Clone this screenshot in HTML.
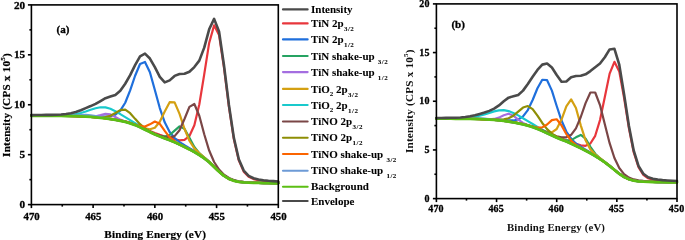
<!DOCTYPE html>
<html><head><meta charset="utf-8"><style>
html,body{margin:0;padding:0;background:#fff;}
svg{display:block;will-change:transform;}
text{font-family:"Liberation Serif",serif;font-weight:bold;fill:#000;stroke:#000;stroke-width:0.3px;}
text.lg{stroke-width:0.05px;}
text.tt{stroke-width:0.2px;}
text.tb{stroke-width:0px;fill:#111;}
</style></head><body>
<svg width="685" height="240" viewBox="0 0 685 240">
<rect width="685" height="240" fill="#fff"/>
<polyline points="31.40,115.61 36.34,115.62 41.28,115.64 46.21,115.66 51.15,115.68 56.09,115.70 61.03,115.73 65.97,115.77 70.90,115.83 75.84,115.93 80.78,116.08 85.72,116.30 90.66,116.59 95.59,116.96 100.53,117.42 105.47,117.99 110.41,118.66 115.35,119.38 120.28,120.22 125.22,121.26 130.16,122.60 135.10,124.27 140.04,126.32 144.97,128.62 149.91,130.93 154.85,133.04 159.79,134.88 164.73,136.44 169.66,137.89 174.60,139.31 179.54,140.33 184.48,139.93 189.42,136.00 194.35,125.24 199.29,104.50 204.23,74.40 209.17,42.94 214.11,25.35 219.04,34.92 223.98,67.58 228.92,106.75 233.86,139.30 238.80,160.43 243.73,171.66 248.67,176.83 253.61,179.10 258.55,180.20 263.49,180.86 268.42,181.32 273.36,181.68 278.30,181.97" fill="none" stroke="#e8363c" stroke-width="2.2" stroke-linejoin="round" stroke-linecap="round"/>
<polyline points="31.40,115.55 36.34,115.55 41.28,115.56 46.21,115.56 51.15,115.56 56.09,115.56 61.03,115.57 65.97,115.57 70.90,115.59 75.84,115.64 80.78,115.72 85.72,115.85 90.66,116.03 95.59,116.24 100.53,116.46 105.47,116.58 110.41,116.26 115.35,114.71 120.28,110.67 125.22,102.74 130.16,90.43 135.10,75.76 140.04,63.98 144.97,61.95 149.91,72.28 154.85,89.97 159.79,108.08 164.73,122.36 169.66,131.94 174.60,138.01 179.54,142.09 184.48,145.26 189.42,148.12 194.35,151.02 199.29,154.11 204.23,157.57 209.17,161.66 214.11,166.39 219.04,171.24 223.98,175.45 228.92,178.51 233.86,180.44 238.80,181.52 243.73,182.09 248.67,182.40 253.61,182.61 258.55,182.76 263.49,182.88 268.42,182.98 273.36,183.06 278.30,183.14" fill="none" stroke="#1f6fdc" stroke-width="2.2" stroke-linejoin="round" stroke-linecap="round"/>
<polyline points="31.40,115.75 36.34,115.77 41.28,115.80 46.21,115.82 51.15,115.86 56.09,115.89 61.03,115.93 65.97,115.99 70.90,116.06 75.84,116.18 80.78,116.34 85.72,116.58 90.66,116.89 95.59,117.28 100.53,117.77 105.47,118.37 110.41,119.07 115.35,119.84 120.28,120.71 125.22,121.81 130.16,123.20 135.10,124.94 140.04,127.06 144.97,129.43 149.91,131.83 154.85,134.02 159.79,135.76 164.73,136.48 169.66,134.98 174.60,130.59 179.54,126.38 184.48,128.86 189.42,137.88 194.35,146.92 199.29,153.14 204.23,157.58 209.17,161.88 214.11,166.64 219.04,171.50 223.98,175.70 228.92,178.75 233.86,180.66 238.80,181.72 243.73,182.28 248.67,182.58 253.61,182.77 258.55,182.91 263.49,183.02 268.42,183.11 273.36,183.19 278.30,183.26" fill="none" stroke="#26a362" stroke-width="2.2" stroke-linejoin="round" stroke-linecap="round"/>
<polyline points="31.40,115.75 36.34,115.77 41.28,115.80 46.21,115.82 51.15,115.85 56.09,115.89 61.03,115.92 65.97,115.97 70.90,116.04 75.84,116.14 80.78,116.29 85.72,116.47 90.66,116.60 95.59,116.30 100.53,115.15 105.47,113.82 110.41,114.40 115.35,117.04 120.28,119.65 125.22,121.54 130.16,123.16 135.10,124.99 140.04,127.16 144.97,129.61 149.91,132.08 154.85,134.40 159.79,136.48 164.73,138.36 169.66,140.24 174.60,142.31 179.54,144.56 184.48,146.92 189.42,149.38 194.35,152.04 199.29,154.96 204.23,158.29 209.17,162.28 214.11,166.92 219.04,171.72 223.98,175.86 228.92,178.88 233.86,180.77 238.80,181.81 243.73,182.36 248.67,182.65 253.61,182.83 258.55,182.96 263.49,183.06 268.42,183.15 273.36,183.22 278.30,183.29" fill="none" stroke="#a46ee0" stroke-width="2.2" stroke-linejoin="round" stroke-linecap="round"/>
<polyline points="31.40,115.71 36.34,115.73 41.28,115.76 46.21,115.78 51.15,115.81 56.09,115.84 61.03,115.88 65.97,115.92 70.90,115.99 75.84,116.10 80.78,116.26 85.72,116.48 90.66,116.78 95.59,117.16 100.53,117.63 105.47,118.21 110.41,118.88 115.35,119.61 120.28,120.45 125.22,121.49 130.16,122.80 135.10,124.43 140.04,126.35 144.97,128.26 149.91,129.27 154.85,127.73 159.79,121.73 164.73,111.51 169.66,102.21 174.60,102.39 179.54,113.85 184.48,128.79 189.42,140.74 194.35,148.37 199.29,153.28 204.23,157.31 209.17,161.58 214.11,166.38 219.04,171.28 223.98,175.50 228.92,178.58 233.86,180.51 238.80,181.59 243.73,182.17 248.67,182.48 253.61,182.68 258.55,182.83 263.49,182.95 268.42,183.05 273.36,183.13 278.30,183.20" fill="none" stroke="#d4a012" stroke-width="2.2" stroke-linejoin="round" stroke-linecap="round"/>
<polyline points="31.40,115.63 36.34,115.63 41.28,115.63 46.21,115.63 51.15,115.61 56.09,115.56 61.03,115.45 65.97,115.22 70.90,114.79 75.84,114.05 80.78,112.95 85.72,111.49 90.66,109.82 95.59,108.25 100.53,107.28 105.47,107.41 110.41,108.80 115.35,111.17 120.28,114.06 125.22,117.13 130.16,120.16 135.10,123.12 140.04,126.04 144.97,128.93 149.91,131.65 154.85,134.10 159.79,136.25 164.73,138.17 169.66,140.08 174.60,142.17 179.54,144.44 184.48,146.81 189.42,149.28 194.35,151.95 199.29,154.88 204.23,158.22 209.17,162.21 214.11,166.87 219.04,171.66 223.98,175.81 228.92,178.84 233.86,180.73 238.80,181.78 243.73,182.32 248.67,182.62 253.61,182.80 258.55,182.93 263.49,183.04 268.42,183.12 273.36,183.20 278.30,183.26" fill="none" stroke="#19c9cc" stroke-width="2.2" stroke-linejoin="round" stroke-linecap="round"/>
<polyline points="31.40,115.72 36.34,115.74 41.28,115.76 46.21,115.79 51.15,115.82 56.09,115.85 61.03,115.89 65.97,115.94 70.90,116.01 75.84,116.12 80.78,116.29 85.72,116.52 90.66,116.82 95.59,117.21 100.53,117.69 105.47,118.28 110.41,118.97 115.35,119.72 120.28,120.59 125.22,121.67 130.16,123.04 135.10,124.76 140.04,126.85 144.97,129.20 149.91,131.56 154.85,133.72 159.79,135.57 164.73,136.99 169.66,137.61 174.60,136.14 179.54,130.25 184.48,119.03 189.42,106.90 194.35,104.02 199.29,115.76 204.23,134.22 209.17,150.56 214.11,161.98 219.04,169.53 223.98,174.64 228.92,178.03 233.86,180.11 238.80,181.29 243.73,181.92 248.67,182.29 253.61,182.52 258.55,182.70 263.49,182.84 268.42,182.95 273.36,183.05 278.30,183.13" fill="none" stroke="#7a4646" stroke-width="2.2" stroke-linejoin="round" stroke-linecap="round"/>
<polyline points="31.40,115.73 36.34,115.75 41.28,115.77 46.21,115.80 51.15,115.82 56.09,115.85 61.03,115.89 65.97,115.93 70.90,116.00 75.84,116.09 80.78,116.24 85.72,116.44 90.66,116.70 95.59,116.99 100.53,117.20 105.47,116.98 110.41,115.71 115.35,113.07 120.28,110.16 125.22,109.66 130.16,113.21 135.10,118.86 140.04,124.21 144.97,128.39 149.91,131.56 154.85,134.12 159.79,136.29 164.73,138.21 169.66,140.12 174.60,142.22 179.54,144.48 184.48,146.85 189.42,149.32 194.35,151.99 199.29,154.92 204.23,158.26 209.17,162.25 214.11,166.89 219.04,171.69 223.98,175.84 228.92,178.86 233.86,180.75 238.80,181.80 243.73,182.34 248.67,182.63 253.61,182.82 258.55,182.95 263.49,183.05 268.42,183.14 273.36,183.21 278.30,183.28" fill="none" stroke="#8e8e05" stroke-width="2.2" stroke-linejoin="round" stroke-linecap="round"/>
<polyline points="31.40,115.75 36.34,115.77 41.28,115.80 46.21,115.83 51.15,115.86 56.09,115.89 61.03,115.93 65.97,115.99 70.90,116.06 75.84,116.18 80.78,116.34 85.72,116.58 90.66,116.89 95.59,117.28 100.53,117.76 105.47,118.36 110.41,119.05 115.35,119.80 120.28,120.66 125.22,121.73 130.16,123.07 135.10,124.67 140.04,126.22 144.97,126.55 149.91,124.35 154.85,121.55 159.79,123.82 164.73,130.93 169.66,137.33 174.60,141.38 179.54,144.18 184.48,146.69 189.42,149.22 194.35,151.91 199.29,154.87 204.23,158.22 209.17,162.22 214.11,166.87 219.04,171.67 223.98,175.83 228.92,178.85 233.86,180.74 238.80,181.79 243.73,182.34 248.67,182.63 253.61,182.81 258.55,182.94 263.49,183.05 268.42,183.14 273.36,183.21 278.30,183.28" fill="none" stroke="#fb6400" stroke-width="2.2" stroke-linejoin="round" stroke-linecap="round"/>
<polyline points="31.40,115.75 36.34,115.77 41.28,115.79 46.21,115.81 51.15,115.84 56.09,115.86 61.03,115.85 65.97,115.80 70.90,115.64 75.84,115.36 80.78,115.06 85.72,114.95 90.66,115.31 95.59,116.09 100.53,117.05 105.47,118.03 110.41,118.95 115.35,119.82 120.28,120.74 125.22,121.87 130.16,123.29 135.10,125.06 140.04,127.21 144.97,129.64 149.91,132.11 154.85,134.42 159.79,136.49 164.73,138.37 169.66,140.25 174.60,142.32 179.54,144.57 184.48,146.93 189.42,149.39 194.35,152.04 199.29,154.97 204.23,158.30 209.17,162.28 214.11,166.93 219.04,171.72 223.98,175.87 228.92,178.89 233.86,180.77 238.80,181.82 243.73,182.36 248.67,182.65 253.61,182.83 258.55,182.96 263.49,183.07 268.42,183.15 273.36,183.22 278.30,183.29" fill="none" stroke="#6d9bd6" stroke-width="2.2" stroke-linejoin="round" stroke-linecap="round"/>
<polyline points="31.40,115.76 36.34,115.79 41.28,115.81 46.21,115.84 51.15,115.87 56.09,115.91 61.03,115.95 65.97,116.01 70.90,116.09 75.84,116.20 80.78,116.37 85.72,116.61 90.66,116.93 95.59,117.33 100.53,117.82 105.47,118.43 110.41,119.13 115.35,119.91 120.28,120.80 125.22,121.91 130.16,123.31 135.10,125.08 140.04,127.23 144.97,129.65 149.91,132.12 154.85,134.43 159.79,136.50 164.73,138.38 169.66,140.26 174.60,142.33 179.54,144.58 184.48,146.93 189.42,149.39 194.35,152.05 199.29,154.97 204.23,158.30 209.17,162.28 214.11,166.93 219.04,171.72 223.98,175.87 228.92,178.89 233.86,180.77 238.80,181.82 243.73,182.36 248.67,182.65 253.61,182.83 258.55,182.96 263.49,183.07 268.42,183.15 273.36,183.23 278.30,183.29" fill="none" stroke="#5cbf14" stroke-width="2.8000000000000003" stroke-linejoin="round" stroke-linecap="round"/>
<polyline points="31.40,115.08 36.34,115.04 41.28,114.99 46.21,114.92 51.15,114.83 56.09,114.69 61.03,114.45 65.97,114.01 70.90,113.22 75.84,111.95 80.78,110.20 85.72,108.15 90.66,106.06 95.59,103.82 100.53,101.04 105.47,98.18 110.41,96.54 115.35,95.01 120.28,90.75 125.22,83.74 130.16,75.13 135.10,65.14 140.04,56.34 144.97,53.68 149.91,58.55 154.85,67.21 159.79,76.83 164.73,82.42 169.66,80.35 174.60,75.91 179.54,73.96 184.48,73.70 189.42,71.73 194.35,67.08 199.29,60.65 204.23,47.65 209.17,29.29 214.11,18.85 219.04,31.44 223.98,65.25 228.92,104.94 233.86,137.82 238.80,159.18 243.73,170.59 248.67,175.89 253.61,178.27 258.55,179.47 263.49,180.20 268.42,180.74 273.36,181.15 278.30,181.49" fill="none" stroke="#4a4a4a" stroke-width="2.6" stroke-linejoin="round" stroke-linecap="round"/>
<polyline points="436.40,118.53 441.21,118.55 446.02,118.57 450.84,118.59 455.65,118.61 460.46,118.64 465.27,118.68 470.08,118.75 474.90,118.84 479.71,118.98 484.52,119.17 489.33,119.41 494.14,119.72 498.96,120.12 503.77,120.67 508.58,121.37 513.39,122.17 518.20,123.03 523.02,124.01 527.83,125.21 532.64,126.67 537.45,128.41 542.26,130.41 547.08,132.58 551.89,134.76 556.70,136.79 561.51,138.60 566.32,140.31 571.14,142.11 575.95,143.92 580.76,145.40 585.57,145.81 590.38,143.51 595.20,135.80 600.01,120.10 604.82,97.10 609.63,73.61 614.44,61.85 619.26,71.39 624.07,97.79 628.88,128.00 633.69,152.20 638.50,167.28 643.32,174.93 648.13,178.29 652.94,179.70 657.75,180.39 662.56,180.80 667.38,181.10 672.19,181.34 677.00,181.52" fill="none" stroke="#e8363c" stroke-width="2.2" stroke-linejoin="round" stroke-linecap="round"/>
<polyline points="436.40,118.49 441.21,118.50 446.02,118.51 450.84,118.52 455.65,118.53 460.46,118.55 465.27,118.57 470.08,118.61 474.90,118.68 479.71,118.78 484.52,118.92 489.33,119.10 494.14,119.34 498.96,119.64 503.77,120.02 508.58,120.40 513.39,120.46 518.20,119.50 523.02,116.44 527.83,110.04 532.64,99.97 537.45,88.24 542.26,79.76 547.08,80.21 551.89,90.63 556.70,105.97 561.51,120.56 566.32,131.49 571.14,138.72 575.95,143.42 580.76,146.79 585.57,149.67 590.38,152.50 595.20,155.45 600.01,158.58 604.82,161.94 609.63,165.65 614.44,169.65 619.26,173.52 624.07,176.74 628.88,179.00 633.69,180.38 638.50,181.13 643.32,181.52 648.13,181.73 652.94,181.87 657.75,181.98 662.56,182.06 667.38,182.14 672.19,182.20 677.00,182.25" fill="none" stroke="#1f6fdc" stroke-width="2.2" stroke-linejoin="round" stroke-linecap="round"/>
<polyline points="436.40,118.63 441.21,118.65 446.02,118.67 450.84,118.70 455.65,118.73 460.46,118.77 465.27,118.82 470.08,118.89 474.90,118.99 479.71,119.14 484.52,119.34 489.33,119.59 494.14,119.91 498.96,120.34 503.77,120.90 508.58,121.62 513.39,122.45 518.20,123.33 523.02,124.34 527.83,125.57 532.64,127.07 537.45,128.86 542.26,130.90 547.08,133.13 551.89,135.37 556.70,137.46 561.51,139.25 566.32,140.46 571.14,140.11 575.95,137.34 580.76,134.98 585.57,138.68 590.38,146.76 595.20,153.72 600.01,158.38 604.82,162.09 609.63,165.85 614.44,169.85 619.26,173.71 624.07,176.92 628.88,179.17 633.69,180.53 638.50,181.27 643.32,181.65 648.13,181.85 652.94,181.98 657.75,182.08 662.56,182.16 667.38,182.23 672.19,182.28 677.00,182.33" fill="none" stroke="#26a362" stroke-width="2.2" stroke-linejoin="round" stroke-linecap="round"/>
<polyline points="436.40,118.61 441.21,118.63 446.02,118.65 450.84,118.68 455.65,118.70 460.46,118.73 465.27,118.78 470.08,118.84 474.90,118.92 479.71,119.05 484.52,119.19 489.33,119.27 494.14,118.96 498.96,117.61 503.77,115.18 508.58,113.71 513.39,115.69 518.20,119.64 523.02,122.95 527.83,125.14 532.64,126.93 537.45,128.81 542.26,130.91 547.08,133.18 551.89,135.47 556.70,137.63 561.51,139.61 566.32,141.53 571.14,143.62 575.95,145.87 580.76,148.21 585.57,150.65 590.38,153.26 595.20,156.07 600.01,159.10 604.82,162.39 609.63,166.03 614.44,169.98 619.26,173.81 624.07,176.99 628.88,179.23 633.69,180.59 638.50,181.31 643.32,181.68 648.13,181.88 652.94,182.01 657.75,182.10 662.56,182.18 667.38,182.24 672.19,182.30 677.00,182.35" fill="none" stroke="#a46ee0" stroke-width="2.2" stroke-linejoin="round" stroke-linecap="round"/>
<polyline points="436.40,118.59 441.21,118.61 446.02,118.63 450.84,118.66 455.65,118.68 460.46,118.72 465.27,118.76 470.08,118.83 474.90,118.93 479.71,119.07 484.52,119.26 489.33,119.50 494.14,119.81 498.96,120.22 503.77,120.77 508.58,121.47 513.39,122.27 518.20,123.12 523.02,124.09 527.83,125.26 532.64,126.68 537.45,128.35 542.26,130.19 547.08,131.88 551.89,132.30 556.70,129.02 561.51,119.58 566.32,106.27 571.14,99.37 575.95,107.99 580.76,125.34 585.57,140.33 590.38,149.37 595.20,154.51 600.01,158.24 604.82,161.78 609.63,165.57 614.44,169.61 619.26,173.51 624.07,176.75 628.88,179.02 633.69,180.41 638.50,181.16 643.32,181.55 648.13,181.77 652.94,181.91 657.75,182.01 662.56,182.10 667.38,182.17 672.19,182.23 677.00,182.28" fill="none" stroke="#d4a012" stroke-width="2.2" stroke-linejoin="round" stroke-linecap="round"/>
<polyline points="436.40,118.48 441.21,118.47 446.02,118.46 450.84,118.43 455.65,118.35 460.46,118.20 465.27,117.92 470.08,117.44 474.90,116.71 479.71,115.66 484.52,114.33 489.33,112.83 494.14,111.40 498.96,110.39 503.77,110.20 508.58,111.07 513.39,112.91 518.20,115.38 523.02,118.18 527.83,121.11 532.64,124.06 537.45,126.93 542.26,129.74 547.08,132.47 551.89,135.02 556.70,137.33 561.51,139.39 566.32,141.36 571.14,143.47 575.95,145.75 580.76,148.10 585.57,150.56 590.38,153.17 595.20,155.99 600.01,159.03 604.82,162.32 609.63,165.97 614.44,169.92 619.26,173.76 624.07,176.95 628.88,179.19 633.69,180.55 638.50,181.28 643.32,181.65 648.13,181.85 652.94,181.98 657.75,182.07 662.56,182.15 667.38,182.22 672.19,182.27 677.00,182.32" fill="none" stroke="#19c9cc" stroke-width="2.2" stroke-linejoin="round" stroke-linecap="round"/>
<polyline points="436.40,118.55 441.21,118.57 446.02,118.59 450.84,118.61 455.65,118.64 460.46,118.67 465.27,118.71 470.08,118.77 474.90,118.87 479.71,119.01 484.52,119.19 489.33,119.43 494.14,119.74 498.96,120.15 503.77,120.69 508.58,121.39 513.39,122.19 518.20,123.04 523.02,124.01 527.83,125.19 532.64,126.63 537.45,128.35 542.26,130.31 547.08,132.41 551.89,134.48 556.70,136.26 561.51,137.40 566.32,137.31 571.14,134.85 575.95,128.33 580.76,117.01 585.57,103.09 590.38,92.48 595.20,92.49 600.01,105.02 604.82,124.23 609.63,143.18 614.44,158.03 619.26,168.03 624.07,174.10 628.88,177.55 633.69,179.42 638.50,180.40 643.32,180.94 648.13,181.26 652.94,181.48 657.75,181.65 662.56,181.78 667.38,181.90 672.19,181.99 677.00,182.07" fill="none" stroke="#7a4646" stroke-width="2.2" stroke-linejoin="round" stroke-linecap="round"/>
<polyline points="436.40,118.57 441.21,118.59 446.02,118.60 450.84,118.62 455.65,118.64 460.46,118.67 465.27,118.70 470.08,118.75 474.90,118.83 479.71,118.95 484.52,119.10 489.33,119.28 494.14,119.48 498.96,119.59 503.77,119.37 508.58,118.28 513.39,115.69 518.20,111.64 523.02,107.54 527.83,106.06 532.64,109.18 537.45,115.71 542.26,122.98 547.08,129.11 551.89,133.60 556.70,136.76 561.51,139.13 566.32,141.21 571.14,143.37 575.95,145.68 580.76,148.05 585.57,150.52 590.38,153.14 595.20,155.97 600.01,159.01 604.82,162.31 609.63,165.97 614.44,169.92 619.26,173.76 624.07,176.95 628.88,179.19 633.69,180.54 638.50,181.28 643.32,181.65 648.13,181.85 652.94,181.98 657.75,182.08 662.56,182.15 667.38,182.22 672.19,182.28 677.00,182.33" fill="none" stroke="#8e8e05" stroke-width="2.2" stroke-linejoin="round" stroke-linecap="round"/>
<polyline points="436.40,118.61 441.21,118.63 446.02,118.66 450.84,118.68 455.65,118.71 460.46,118.75 465.27,118.80 470.08,118.86 474.90,118.97 479.71,119.11 484.52,119.30 489.33,119.55 494.14,119.87 498.96,120.28 503.77,120.83 508.58,121.54 513.39,122.34 518.20,123.20 523.02,124.16 527.83,125.31 532.64,126.61 537.45,127.68 542.26,127.41 547.08,124.52 551.89,120.08 556.70,119.25 561.51,125.41 566.32,134.05 571.14,140.71 575.95,144.87 580.76,147.77 585.57,150.38 590.38,153.06 595.20,155.92 600.01,158.98 604.82,162.29 609.63,165.95 614.44,169.91 619.26,173.76 624.07,176.95 628.88,179.19 633.69,180.55 638.50,181.28 643.32,181.65 648.13,181.86 652.94,181.99 657.75,182.08 662.56,182.16 667.38,182.23 672.19,182.28 677.00,182.33" fill="none" stroke="#fb6400" stroke-width="2.2" stroke-linejoin="round" stroke-linecap="round"/>
<polyline points="436.40,118.63 441.21,118.65 446.02,118.67 450.84,118.69 455.65,118.72 460.46,118.73 465.27,118.70 470.08,118.59 474.90,118.46 479.71,118.54 484.52,118.91 489.33,119.39 494.14,119.85 498.96,120.33 503.77,120.91 508.58,121.64 513.39,122.47 518.20,123.37 523.02,124.38 527.83,125.62 532.64,127.13 537.45,128.93 542.26,131.00 547.08,133.25 551.89,135.52 556.70,137.68 561.51,139.65 566.32,141.56 571.14,143.64 575.95,145.90 580.76,148.23 585.57,150.67 590.38,153.27 595.20,156.08 600.01,159.11 604.82,162.40 609.63,166.04 614.44,169.99 619.26,173.82 624.07,177.00 628.88,179.24 633.69,180.59 638.50,181.32 643.32,181.69 648.13,181.89 652.94,182.01 657.75,182.11 662.56,182.18 667.38,182.25 672.19,182.30 677.00,182.35" fill="none" stroke="#6d9bd6" stroke-width="2.2" stroke-linejoin="round" stroke-linecap="round"/>
<polyline points="436.40,118.63 441.21,118.65 446.02,118.68 450.84,118.71 455.65,118.74 460.46,118.78 465.27,118.83 470.08,118.90 474.90,119.01 479.71,119.16 484.52,119.35 489.33,119.61 494.14,119.93 498.96,120.36 503.77,120.93 508.58,121.65 513.39,122.48 518.20,123.37 523.02,124.38 527.83,125.62 532.64,127.13 537.45,128.93 542.26,131.00 547.08,133.25 551.89,135.53 556.70,137.68 561.51,139.65 566.32,141.56 571.14,143.65 575.95,145.90 580.76,148.23 585.57,150.67 590.38,153.27 595.20,156.08 600.01,159.11 604.82,162.40 609.63,166.04 614.44,169.99 619.26,173.82 624.07,177.00 628.88,179.24 633.69,180.59 638.50,181.32 643.32,181.69 648.13,181.89 652.94,182.01 657.75,182.11 662.56,182.18 667.38,182.25 672.19,182.30 677.00,182.35" fill="none" stroke="#5cbf14" stroke-width="2.8000000000000003" stroke-linejoin="round" stroke-linecap="round"/>
<polyline points="436.40,118.01 441.21,117.97 446.02,117.91 450.84,117.82 455.65,117.68 460.46,117.44 465.27,116.99 470.08,116.24 474.90,115.16 479.71,113.90 484.52,112.54 489.33,110.89 494.14,108.68 498.96,105.44 503.77,101.21 508.58,97.63 513.39,96.33 518.20,94.92 523.02,90.63 527.83,83.94 532.64,76.75 537.45,69.90 542.26,64.63 547.08,63.49 551.89,67.50 556.70,75.05 561.51,81.75 566.32,81.48 571.14,77.16 575.95,76.00 580.76,75.81 585.57,74.32 590.38,71.06 595.20,67.24 600.01,63.55 604.82,57.27 609.63,49.43 614.44,48.81 619.26,64.69 624.07,94.11 628.88,125.63 633.69,150.43 638.50,165.84 643.32,173.71 648.13,177.23 652.94,178.79 657.75,179.58 662.56,180.09 667.38,180.46 672.19,180.76 677.00,181.00" fill="none" stroke="#4a4a4a" stroke-width="2.6" stroke-linejoin="round" stroke-linecap="round"/>
<rect x="31.40" y="4.90" width="246.90" height="199.70" fill="none" stroke="#000" stroke-width="1.6"/>
<line x1="27.90" y1="204.60" x2="31.40" y2="204.60" stroke="#000" stroke-width="1.6"/>
<line x1="27.90" y1="154.68" x2="31.40" y2="154.68" stroke="#000" stroke-width="1.6"/>
<line x1="27.90" y1="104.75" x2="31.40" y2="104.75" stroke="#000" stroke-width="1.6"/>
<line x1="27.90" y1="54.82" x2="31.40" y2="54.82" stroke="#000" stroke-width="1.6"/>
<line x1="27.90" y1="4.90" x2="31.40" y2="4.90" stroke="#000" stroke-width="1.6"/>
<line x1="29.40" y1="179.64" x2="31.40" y2="179.64" stroke="#000" stroke-width="1.6"/>
<line x1="29.40" y1="129.71" x2="31.40" y2="129.71" stroke="#000" stroke-width="1.6"/>
<line x1="29.40" y1="79.79" x2="31.40" y2="79.79" stroke="#000" stroke-width="1.6"/>
<line x1="29.40" y1="29.86" x2="31.40" y2="29.86" stroke="#000" stroke-width="1.6"/>
<line x1="278.30" y1="204.60" x2="278.30" y2="208.10" stroke="#000" stroke-width="1.6"/>
<line x1="216.58" y1="204.60" x2="216.58" y2="208.10" stroke="#000" stroke-width="1.6"/>
<line x1="154.85" y1="204.60" x2="154.85" y2="208.10" stroke="#000" stroke-width="1.6"/>
<line x1="93.12" y1="204.60" x2="93.12" y2="208.10" stroke="#000" stroke-width="1.6"/>
<line x1="31.40" y1="204.60" x2="31.40" y2="208.10" stroke="#000" stroke-width="1.6"/>
<line x1="247.44" y1="204.60" x2="247.44" y2="206.60" stroke="#000" stroke-width="1.6"/>
<line x1="185.71" y1="204.60" x2="185.71" y2="206.60" stroke="#000" stroke-width="1.6"/>
<line x1="123.99" y1="204.60" x2="123.99" y2="206.60" stroke="#000" stroke-width="1.6"/>
<line x1="62.26" y1="204.60" x2="62.26" y2="206.60" stroke="#000" stroke-width="1.6"/>
<rect x="436.40" y="3.90" width="240.60" height="194.70" fill="none" stroke="#000" stroke-width="1.6"/>
<line x1="432.90" y1="198.60" x2="436.40" y2="198.60" stroke="#000" stroke-width="1.6"/>
<line x1="432.90" y1="149.93" x2="436.40" y2="149.93" stroke="#000" stroke-width="1.6"/>
<line x1="432.90" y1="101.25" x2="436.40" y2="101.25" stroke="#000" stroke-width="1.6"/>
<line x1="432.90" y1="52.57" x2="436.40" y2="52.57" stroke="#000" stroke-width="1.6"/>
<line x1="432.90" y1="3.90" x2="436.40" y2="3.90" stroke="#000" stroke-width="1.6"/>
<line x1="434.40" y1="174.26" x2="436.40" y2="174.26" stroke="#000" stroke-width="1.6"/>
<line x1="434.40" y1="125.59" x2="436.40" y2="125.59" stroke="#000" stroke-width="1.6"/>
<line x1="434.40" y1="76.91" x2="436.40" y2="76.91" stroke="#000" stroke-width="1.6"/>
<line x1="434.40" y1="28.24" x2="436.40" y2="28.24" stroke="#000" stroke-width="1.6"/>
<line x1="677.00" y1="198.60" x2="677.00" y2="202.10" stroke="#000" stroke-width="1.6"/>
<line x1="616.85" y1="198.60" x2="616.85" y2="202.10" stroke="#000" stroke-width="1.6"/>
<line x1="556.70" y1="198.60" x2="556.70" y2="202.10" stroke="#000" stroke-width="1.6"/>
<line x1="496.55" y1="198.60" x2="496.55" y2="202.10" stroke="#000" stroke-width="1.6"/>
<line x1="436.40" y1="198.60" x2="436.40" y2="202.10" stroke="#000" stroke-width="1.6"/>
<line x1="646.92" y1="198.60" x2="646.92" y2="200.60" stroke="#000" stroke-width="1.6"/>
<line x1="586.77" y1="198.60" x2="586.77" y2="200.60" stroke="#000" stroke-width="1.6"/>
<line x1="526.62" y1="198.60" x2="526.62" y2="200.60" stroke="#000" stroke-width="1.6"/>
<line x1="466.47" y1="198.60" x2="466.47" y2="200.60" stroke="#000" stroke-width="1.6"/>
<text x="25.20" y="208.20" text-anchor="end" font-size="11.2" letter-spacing="0.00">0</text>
<text x="25.20" y="158.28" text-anchor="end" font-size="11.2" letter-spacing="0.00">5</text>
<text x="25.20" y="108.35" text-anchor="end" font-size="11.2" letter-spacing="0.00">10</text>
<text x="25.20" y="58.42" text-anchor="end" font-size="11.2" letter-spacing="0.00">15</text>
<text x="25.20" y="8.50" text-anchor="end" font-size="11.2" letter-spacing="0.00">20</text>
<text x="278.50" y="219.50" text-anchor="middle" font-size="10.8" letter-spacing="0.00">450</text>
<text x="216.78" y="219.50" text-anchor="middle" font-size="10.8" letter-spacing="0.00">455</text>
<text x="155.05" y="219.50" text-anchor="middle" font-size="10.8" letter-spacing="0.00">460</text>
<text x="93.33" y="219.50" text-anchor="middle" font-size="10.8" letter-spacing="0.00">465</text>
<text x="31.60" y="219.50" text-anchor="middle" font-size="10.8" letter-spacing="0.00">470</text>
<text class="tt" x="155.20" y="237.50" text-anchor="middle" font-size="11.2" letter-spacing="0.15">Binding Energy (eV)</text>
<text class="tt" transform="translate(10.00,105.00) rotate(-90)" text-anchor="middle" font-size="11.2" letter-spacing="0.20">Intensity (CPS x 10<tspan dy="-5.2" font-size="7.0">5</tspan><tspan dy="5.2">)</tspan></text>
<text x="56.50" y="33.00" font-size="11.0">(a)</text>
<text x="429.60" y="201.80" text-anchor="end" font-size="10.0" letter-spacing="0.15">0</text>
<text x="429.60" y="153.12" text-anchor="end" font-size="10.0" letter-spacing="0.15">5</text>
<text x="429.60" y="104.45" text-anchor="end" font-size="10.0" letter-spacing="0.15">10</text>
<text x="429.60" y="55.77" text-anchor="end" font-size="10.0" letter-spacing="0.15">15</text>
<text x="429.60" y="7.10" text-anchor="end" font-size="10.0" letter-spacing="0.15">20</text>
<text x="676.58" y="212.10" text-anchor="middle" font-size="10.0" letter-spacing="0.15">450</text>
<text x="616.43" y="212.10" text-anchor="middle" font-size="10.0" letter-spacing="0.15">455</text>
<text x="556.27" y="212.10" text-anchor="middle" font-size="10.0" letter-spacing="0.15">460</text>
<text x="496.12" y="212.10" text-anchor="middle" font-size="10.0" letter-spacing="0.15">465</text>
<text x="435.97" y="212.10" text-anchor="middle" font-size="10.0" letter-spacing="0.15">470</text>
<text class="tb" x="556.00" y="230.60" text-anchor="middle" font-size="10.8" letter-spacing="0.15">Binding Energy (eV)</text>
<text class="tb" transform="translate(412.80,101.20) rotate(-90)" text-anchor="middle" font-size="11.2" letter-spacing="0.20">Intensity (CPS x 10<tspan dy="-5.2" font-size="7.0">5</tspan><tspan dy="5.2">)</tspan></text>
<text x="451.40" y="27.70" font-size="11.0">(b)</text>
<line x1="283" y1="9.40" x2="307.6" y2="9.40" stroke="#4a4a4a" stroke-width="2.2" stroke-linecap="round"/>
<text class="lg" x="311" y="13.00" font-size="11.0" letter-spacing="0.00">Intensity</text>
<line x1="283" y1="23.40" x2="307.6" y2="23.40" stroke="#e8363c" stroke-width="2.2" stroke-linecap="round"/>
<text class="lg" x="311" y="27.00" font-size="11.0" letter-spacing="0.00">TiN 2p<tspan dy="4.0" dx="0.4" font-size="7.0" letter-spacing="0.5">3/2</tspan></text>
<line x1="283" y1="39.40" x2="307.6" y2="39.40" stroke="#1f6fdc" stroke-width="2.2" stroke-linecap="round"/>
<text class="lg" x="311" y="43.00" font-size="11.0" letter-spacing="0.00">TiN 2p<tspan dy="4.0" dx="0.4" font-size="7.0" letter-spacing="0.5">1/2</tspan></text>
<line x1="283" y1="56.00" x2="307.6" y2="56.00" stroke="#26a362" stroke-width="2.2" stroke-linecap="round"/>
<text class="lg" x="311" y="59.60" font-size="11.0" letter-spacing="0.00">TiN shake-up <tspan dy="4.0" dx="0.4" font-size="7.0" letter-spacing="0.5">3/2</tspan></text>
<line x1="283" y1="72.10" x2="307.6" y2="72.10" stroke="#a46ee0" stroke-width="2.2" stroke-linecap="round"/>
<text class="lg" x="311" y="75.70" font-size="11.0" letter-spacing="0.00">TiN shake-up <tspan dy="4.0" dx="0.4" font-size="7.0" letter-spacing="0.5">1/2</tspan></text>
<line x1="283" y1="88.90" x2="307.6" y2="88.90" stroke="#d4a012" stroke-width="2.2" stroke-linecap="round"/>
<text class="lg" x="311" y="92.50" font-size="11.0" letter-spacing="0.00">TiO<tspan dy="3" font-size="7">2</tspan><tspan dy="-3"> 2p</tspan><tspan dy="4.0" dx="0.4" font-size="7.0" letter-spacing="0.5">3/2</tspan></text>
<line x1="283" y1="105.00" x2="307.6" y2="105.00" stroke="#19c9cc" stroke-width="2.2" stroke-linecap="round"/>
<text class="lg" x="311" y="108.60" font-size="11.0" letter-spacing="0.00">TiO<tspan dy="3" font-size="7">2</tspan><tspan dy="-3"> 2p</tspan><tspan dy="4.0" dx="0.4" font-size="7.0" letter-spacing="0.5">1/2</tspan></text>
<line x1="283" y1="121.50" x2="307.6" y2="121.50" stroke="#7a4646" stroke-width="2.2" stroke-linecap="round"/>
<text class="lg" x="311" y="125.10" font-size="11.0" letter-spacing="0.00">TiNO 2p<tspan dy="4.0" dx="0.4" font-size="7.0" letter-spacing="0.5">3/2</tspan></text>
<line x1="283" y1="137.75" x2="307.6" y2="137.75" stroke="#8e8e05" stroke-width="2.2" stroke-linecap="round"/>
<text class="lg" x="311" y="141.35" font-size="11.0" letter-spacing="0.00">TiNO 2p<tspan dy="4.0" dx="0.4" font-size="7.0" letter-spacing="0.5">1/2</tspan></text>
<line x1="283" y1="154.00" x2="307.6" y2="154.00" stroke="#fb6400" stroke-width="2.2" stroke-linecap="round"/>
<text class="lg" x="311" y="157.60" font-size="11.0" letter-spacing="0.00">TiNO shake-up <tspan dy="4.0" dx="0.4" font-size="7.0" letter-spacing="0.5">3/2</tspan></text>
<line x1="283" y1="170.75" x2="307.6" y2="170.75" stroke="#6d9bd6" stroke-width="2.2" stroke-linecap="round"/>
<text class="lg" x="311" y="174.35" font-size="11.0" letter-spacing="0.00">TiNO shake-up <tspan dy="4.0" dx="0.4" font-size="7.0" letter-spacing="0.5">1/2</tspan></text>
<line x1="283" y1="186.75" x2="307.6" y2="186.75" stroke="#5cbf14" stroke-width="2.2" stroke-linecap="round"/>
<text class="lg" x="311" y="190.35" font-size="11.0" letter-spacing="0.00">Background</text>
<line x1="283" y1="201.00" x2="307.6" y2="201.00" stroke="#4a4a4a" stroke-width="2.2" stroke-linecap="round"/>
<text class="lg" x="311" y="204.60" font-size="11.0" letter-spacing="0.00">Envelope</text>
</svg>
</body></html>
